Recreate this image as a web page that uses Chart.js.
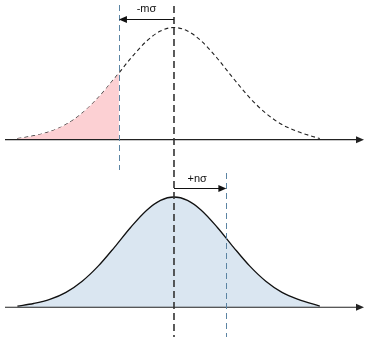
<!DOCTYPE html>
<html>
<head>
<meta charset="utf-8">
<script src="https://cdn.jsdelivr.net/npm/chart.js@4/dist/chart.umd.min.js"></script>
<style>
  html, body { margin: 0; padding: 0; background: #ffffff; }
  #wrap { position: relative; width: 365px; height: 337px; overflow: hidden; }
  .panel { position: absolute; left: 0; width: 365px; }
  #p1 { top: 0; height: 170px; }
  #p2 { top: 170px; height: 167px; }
</style>
</head>
<body>
<div id="wrap">
  <div class="panel" id="p1"><canvas id="c1"></canvas></div>
  <div class="panel" id="p2"><canvas id="c2"></canvas></div>
</div>
<script>
// Positions along the axis in units of sigma, and curve heights relative to the peak
const sigmaPoints = [-2.9, -2.6, -2.3, -2.0, -1.7, -1.4, -1.1, -0.8, -0.5, -0.25, 0, 0.25, 0.5, 0.8, 1.1, 1.4, 1.7, 2.0, 2.3, 2.7];
const curveHeights = [0.01, 0.034, 0.071, 0.135, 0.236, 0.375, 0.546, 0.726, 0.882, 0.969, 1.0, 0.969, 0.882, 0.726, 0.546, 0.375, 0.236, 0.135, 0.071, 0.01];
// Shift markers (in sigma) and labels
const lowerShift = -1.02;
const upperShift = 0.97;
const tailEdgeHeight = 0.59;
const shiftLabels = ['-mσ', '+nσ'];
const arrowLevel = 1.08;
const labelLevel = 1.165;

const curvePts = sigmaPoints.map((z, i) => ({ x: z, y: curveHeights[i] }));
const tailPts = curvePts.filter(p => p.x <= lowerShift).concat([{ x: lowerShift, y: tailEdgeHeight }]);

const diagramPlugin = {
  id: 'diagram',
  afterDatasetsDraw(chart, args, opts) {
    const ctx = chart.ctx;
    const xs = chart.scales.x, ys = chart.scales.y;
    const H = chart.height, W = chart.width;
    const x0 = xs.getPixelForValue(0);
    const xb = xs.getPixelForValue(opts.shift);
    const yBase = ys.getPixelForValue(0);
    ctx.save();
    // horizontal axis with arrowhead
    ctx.strokeStyle = '#222'; ctx.fillStyle = '#222'; ctx.lineWidth = 1.2; ctx.setLineDash([]);
    ctx.beginPath(); ctx.moveTo(5, yBase); ctx.lineTo(W - 6, yBase); ctx.stroke();
    ctx.beginPath(); ctx.moveTo(W - 1, yBase); ctx.lineTo(W - 9, yBase - 3.5); ctx.lineTo(W - 9, yBase + 3.5); ctx.closePath(); ctx.fill();
    // blue dashed shift line
    ctx.strokeStyle = '#5b84a3'; ctx.lineWidth = 1; ctx.setLineDash([6, 4]);
    ctx.beginPath(); ctx.moveTo(Math.round(xb) + 0.5, opts.blueTop); ctx.lineTo(Math.round(xb) + 0.5, opts.blueBottom); ctx.stroke();
    // black dashed centre line
    ctx.strokeStyle = '#333'; ctx.lineWidth = 1.6; ctx.setLineDash([7, 4]);
    ctx.beginPath(); ctx.moveTo(x0, opts.centerTop); ctx.lineTo(x0, H); ctx.stroke();
    // arrow
    const ya = Math.round(ys.getPixelForValue(arrowLevel)) + 0.5;
    ctx.setLineDash([]); ctx.strokeStyle = '#111'; ctx.fillStyle = '#111'; ctx.lineWidth = 1;
    const dir = Math.sign(xb - x0);
    ctx.beginPath(); ctx.moveTo(x0, ya); ctx.lineTo(xb - dir * 6, ya); ctx.stroke();
    ctx.beginPath(); ctx.moveTo(xb, ya); ctx.lineTo(xb - dir * 8, ya - 3.5); ctx.lineTo(xb - dir * 8, ya + 3.5); ctx.closePath(); ctx.fill();
    // label
    ctx.font = '11px "Liberation Sans", Arial, sans-serif';
    ctx.textAlign = 'center'; ctx.textBaseline = 'middle';
    ctx.fillText(opts.label, (x0 + xb) / 2 + opts.labelDx, ys.getPixelForValue(labelLevel));
    ctx.restore();
  }
};

function baseOptions(diagramOpts) {
  return {
    responsive: true,
    maintainAspectRatio: false,
    animation: false,
    layout: { padding: 0 },
    scales: {
      x: { type: 'linear', display: false, min: -3.222, max: 3.537 },
      y: { display: false, min: -0.27, max: 1.245 }
    },
    plugins: { legend: { display: false }, tooltip: { enabled: false }, diagram: diagramOpts },
    elements: { point: { radius: 0 } }
  };
}

new Chart(document.getElementById('c1'), {
  type: 'line',
  data: {
    datasets: [
      { data: tailPts, borderWidth: 0, borderColor: 'rgba(0,0,0,0)', backgroundColor: '#fcd0d3', fill: 'origin', cubicInterpolationMode: 'monotone' },
      { data: curvePts, borderWidth: 1.1, borderColor: '#222', borderDash: [4, 3], fill: false, cubicInterpolationMode: 'monotone' }
    ]
  },
  options: baseOptions({ shift: lowerShift, label: shiftLabels[0], labelDx: 0, blueTop: 5, blueBottom: 170, centerTop: 6 }),
  plugins: [diagramPlugin]
});

new Chart(document.getElementById('c2'), {
  type: 'line',
  data: {
    datasets: [
      { data: curvePts, borderWidth: 1.3, borderColor: '#111', backgroundColor: '#dae6f1', fill: 'origin', cubicInterpolationMode: 'monotone' }
    ]
  },
  options: baseOptions({ shift: upperShift, label: shiftLabels[1], labelDx: -3, blueTop: 3, blueBottom: 167, centerTop: 0 }),
  plugins: [diagramPlugin]
});
</script>
</body>
</html>
